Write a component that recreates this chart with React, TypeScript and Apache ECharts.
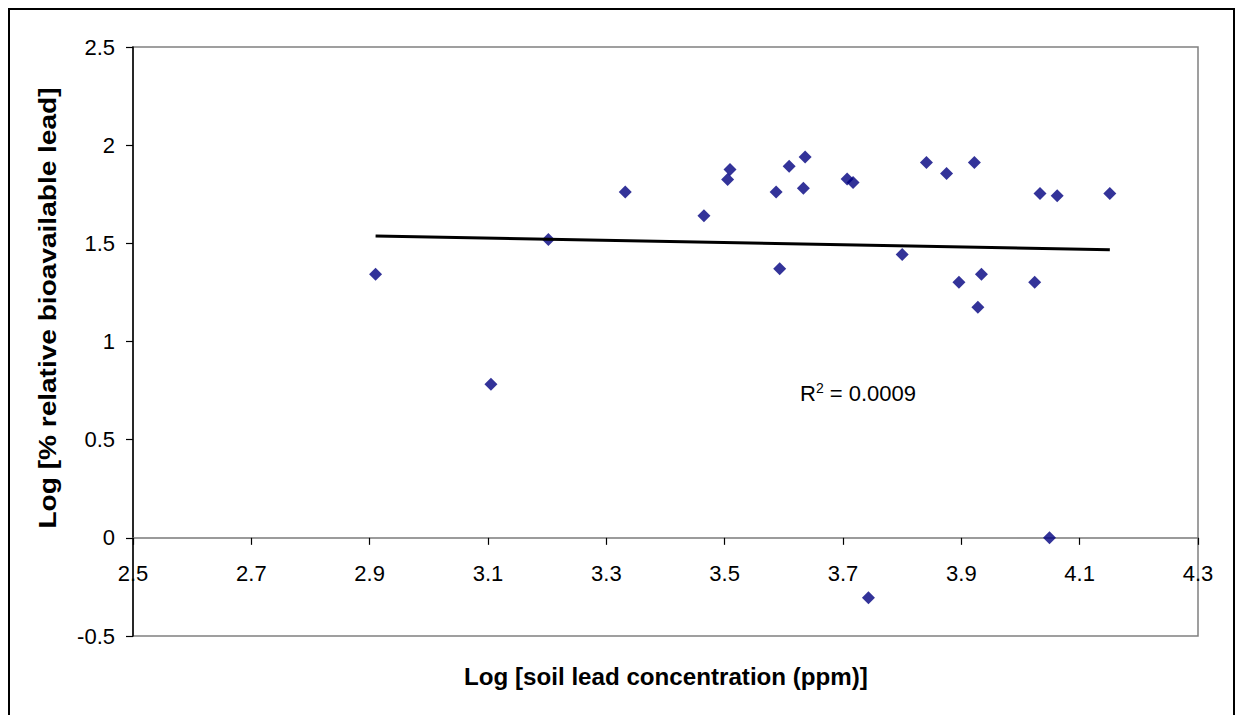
import React, { useEffect, useRef } from "react";
import * as echarts from "echarts";

// Log soil lead concentration (ppm) vs log % relative bioavailable lead
const soilLeadLog = [
  2.91, 3.105, 3.202, 3.332, 3.465, 3.505, 3.509, 3.587, 3.593, 3.609, 3.633, 3.636, 3.707, 3.717,
  3.743, 3.8, 3.841, 3.875, 3.896, 3.922, 3.928, 3.934, 4.024, 4.033, 4.049, 4.062, 4.151,
];
const bioLeadLog = [
  1.342, 0.782, 1.52, 1.762, 1.64, 1.825, 1.876, 1.762, 1.37, 1.893, 1.78, 1.94, 1.828, 1.81,
  -0.305, 1.443, 1.912, 1.856, 1.302, 1.912, 1.174, 1.342, 1.302, 1.754, 0.0, 1.742, 1.754,
];
const xTickLabels = ["2.5", "2.7", "2.9", "3.1", "3.3", "3.5", "3.7", "3.9", "4.1", "4.3"];
const yTickLabels = ["-0.5", "0", "0.5", "1", "1.5", "2", "2.5"];
const xTitle = "Log [soil lead concentration (ppm)]";
const yTitle = "Log [% relative bioavailable lead]";
const rSquaredLabel = "0.0009";

const FONT = '"Liberation Sans", Arial, Helvetica, sans-serif';

function linearFit(xs: number[], ys: number[]) {
  const n = xs.length;
  const mx = xs.reduce((a, b) => a + b, 0) / n;
  const my = ys.reduce((a, b) => a + b, 0) / n;
  let sxy = 0;
  let sxx = 0;
  for (let i = 0; i < n; i++) {
    sxy += (xs[i] - mx) * (ys[i] - my);
    sxx += (xs[i] - mx) * (xs[i] - mx);
  }
  const slope = sxy / sxx;
  return { slope, intercept: my - slope * mx };
}

export default function App() {
  const ref = useRef<HTMLDivElement>(null);

  useEffect(() => {
    if (!ref.current) return;
    const chart = echarts.init(ref.current, undefined, { renderer: "svg" });
    const xTicks = xTickLabels.map(Number);
    const yTicks = yTickLabels.map(Number);
    const fit = linearFit(soilLeadLog, bioLeadLog);
    const xMin = Math.min(...soilLeadLog);
    const xMax = Math.max(...soilLeadLog);
    const trend = [
      [xMin, fit.intercept + fit.slope * xMin],
      [xMax, fit.intercept + fit.slope * xMax],
    ];

    const plotLeft = 133;
    const plotRight = 38;
    const plotTop = 47;
    const plotBottom = 79;
    const plotHeight = 715 - plotTop - plotBottom;
    const yMin = yTicks[0];
    const yMax = yTicks[yTicks.length - 1];
    // pixel row of the zero line, where the horizontal axis crosses
    const zeroBottom = 715 - (plotTop + (plotHeight * (yMax - 0)) / (yMax - yMin));

    chart.setOption({
      animation: false,
      backgroundColor: "#ffffff",
      textStyle: { fontFamily: FONT },
      grid: [
        {
          left: plotLeft,
          top: plotTop,
          right: plotRight,
          bottom: plotBottom,
          show: true,
          borderColor: "#808080",
          borderWidth: 1.5,
          backgroundColor: "#ffffff",
        },
        {
          left: plotLeft,
          top: plotTop,
          right: plotRight,
          bottom: zeroBottom,
          show: false,
        },
      ],
      xAxis: [
        {
          type: "value",
          gridIndex: 0,
          min: xTicks[0],
          max: xTicks[xTicks.length - 1],
          show: false,
          splitLine: { show: false },
        },
        {
          type: "value",
          gridIndex: 1,
          min: xTicks[0],
          max: xTicks[xTicks.length - 1],
          axisLine: { show: true, onZero: false, lineStyle: { color: "#7a7a7a", width: 1.5 } },
          axisTick: {
            show: true,
            customValues: xTicks,
            length: 7,
            lineStyle: { color: "#000000", width: 1.2 },
          },
          axisLabel: {
            customValues: xTicks,
            formatter: (v: number) => v.toFixed(1),
            margin: 25,
            fontSize: 22,
            color: "#000000",
            fontFamily: FONT,
          },
          splitLine: { show: false },
        },
      ],
      yAxis: [
        {
          type: "value",
          gridIndex: 0,
          min: yMin,
          max: yMax,
          interval: 0.5,
          axisLine: { show: true, onZero: false, lineStyle: { color: "#000000", width: 1.5 } },
          axisTick: { show: true, length: 7, lineStyle: { color: "#000000", width: 1.2 } },
          axisLabel: {
            margin: 18,
            fontSize: 22,
            color: "#000000",
            fontFamily: FONT,
          },
          splitLine: { show: false },
        },
        {
          type: "value",
          gridIndex: 1,
          min: 0,
          max: yMax,
          show: false,
          splitLine: { show: false },
        },
      ],
      series: [
        {
          type: "scatter",
          xAxisIndex: 0,
          yAxisIndex: 0,
          data: soilLeadLog.map((x, i) => [x, bioLeadLog[i]]),
          symbol: "diamond",
          symbolSize: 13,
          itemStyle: { color: "#000080" },
          z: 2,
        },
        {
          type: "line",
          xAxisIndex: 0,
          yAxisIndex: 0,
          data: trend,
          symbol: "none",
          lineStyle: { color: "#000000", width: 3 },
          z: 3,
        },
        {
          type: "scatter",
          xAxisIndex: 1,
          yAxisIndex: 1,
          data: [],
        },
      ],
      graphic: [
        {
          type: "rect",
          shape: { x: 9, y: 9, width: 1225, height: 800 },
          style: { fill: "none", stroke: "#000000", lineWidth: 2 },
          silent: true,
        },
        {
          type: "text",
          x: 666,
          y: 677,
          scaleX: 1.05,
          style: {
            text: xTitle,
            fontSize: 23,
            fontWeight: "bold",
            fontFamily: FONT,
            fill: "#000000",
            textAlign: "center",
            textVerticalAlign: "middle",
          },
        },
        {
          type: "text",
          x: 48,
          y: 308,
          rotation: Math.PI / 2,
          scaleX: 1.22,
          style: {
            text: yTitle,
            fontSize: 23,
            fontWeight: "bold",
            fontFamily: FONT,
            fill: "#000000",
            textAlign: "center",
            textVerticalAlign: "middle",
          },
        },
        {
          type: "text",
          x: 800,
          y: 393,
          style: {
            text: "{a|R}{b|2}{a| = " + rSquaredLabel + "}",
            textAlign: "left",
            textVerticalAlign: "middle",
            rich: {
              a: { fontSize: 22, lineHeight: 24, fontFamily: FONT, fill: "#000000", color: "#000000" },
              b: {
                fontSize: 14,
                lineHeight: 14,
                fontFamily: FONT,
                fill: "#000000",
                color: "#000000",
                verticalAlign: "top",
              },
            },
          },
        },
      ],
    });

    return () => chart.dispose();
  }, []);

  return (
    <div
      ref={ref}
      style={{ position: "fixed", left: 0, top: 0, width: 1236, height: 715, background: "#fff" }}
    />
  );
}
